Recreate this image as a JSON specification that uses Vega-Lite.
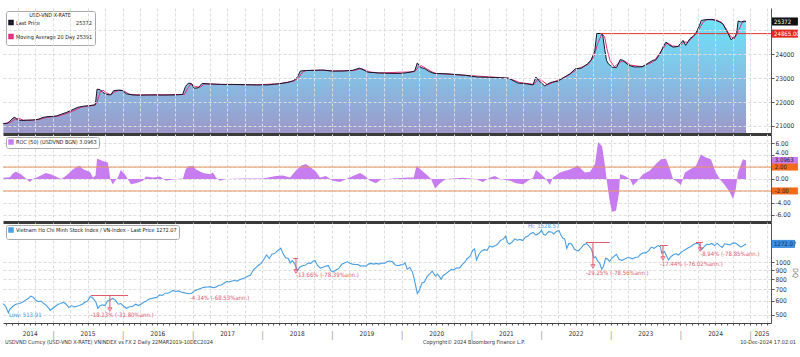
{
  "$schema": "https://vega.github.io/schema/vega-lite/v6.json",
  "background": "white",
  "padding": {"left": 0, "top": 8, "right": 0, "bottom": 0},
  "spacing": 0,
  "config": {
    "view": {"stroke": null},
    "scale": {"continuousPadding": 0},
    "font": "Liberation Sans Narrow, DejaVu Sans Condensed, Liberation Sans",
    "axis": {"labelFontSize": 6.5, "labelColor": "#333333", "gridColor": "#dcdcdc", "gridDash": [3, 2], "gridWidth": 1, "domainColor": "#555555", "tickColor": "#555555", "titleFontWeight": "normal"},
    "legend": {"orient": "top-left", "offset": 3, "padding": 2, "fillColor": "white", "strokeColor": "#a8a8a8", "cornerRadius": 2, "labelFontSize": 5.5, "titleFontSize": 5.5, "titleFontWeight": "normal", "titleColor": "#222222", "labelColor": "#222222", "symbolType": "square", "symbolSize": 9, "symbolStrokeWidth": 2.5, "rowPadding": 0, "labelOffset": 2, "titleAnchor": "middle", "titlePadding": 1, "labelLimit": 300}
  },
  "datasets": {
    "fx": [
      {"date":"2014-04-16","v":21100},{"date":"2014-05-05","v":21110},{"date":"2014-05-20","v":21200},{"date":"2014-06-05","v":21330},{"date":"2014-06-15","v":21360},{"date":"2014-06-30","v":21260},{"date":"2014-07-20","v":21230},{"date":"2014-08-15","v":21240},{"date":"2014-09-15","v":21250},{"date":"2014-10-15","v":21280},{"date":"2014-11-10","v":21360},{"date":"2014-12-05","v":21390},{"date":"2014-12-31","v":21400},
      {"date":"2015-01-20","v":21420},{"date":"2015-02-15","v":21500},{"date":"2015-03-10","v":21560},{"date":"2015-04-05","v":21650},{"date":"2015-05-10","v":21780},{"date":"2015-06-10","v":21830},{"date":"2015-07-10","v":21850},{"date":"2015-08-10","v":21890},{"date":"2015-08-13","v":22050},{"date":"2015-08-20","v":22540},{"date":"2015-09-05","v":22520},{"date":"2015-09-20","v":22400},{"date":"2015-10-10","v":22320},{"date":"2015-10-30","v":22300},{"date":"2015-11-15","v":22480},{"date":"2015-12-10","v":22500},{"date":"2015-12-31","v":22480},
      {"date":"2016-01-20","v":22350},{"date":"2016-02-20","v":22300},{"date":"2016-04-01","v":22290},{"date":"2016-06-01","v":22300},{"date":"2016-08-01","v":22290},{"date":"2016-10-01","v":22300},{"date":"2016-11-10","v":22320},{"date":"2016-11-25","v":22650},{"date":"2016-12-10","v":22790},{"date":"2016-12-25","v":22780},
      {"date":"2017-01-10","v":22580},{"date":"2017-01-31","v":22600},{"date":"2017-02-20","v":22780},{"date":"2017-04-01","v":22760},{"date":"2017-06-01","v":22740},{"date":"2017-08-01","v":22740},{"date":"2017-10-01","v":22730},{"date":"2017-12-01","v":22720},
      {"date":"2018-02-01","v":22720},{"date":"2018-04-01","v":22770},{"date":"2018-05-15","v":22820},{"date":"2018-06-15","v":22900},{"date":"2018-07-05","v":23050},{"date":"2018-07-20","v":23300},{"date":"2018-08-15","v":23320},{"date":"2018-10-01","v":23330},{"date":"2018-11-15","v":23340},
      {"date":"2019-01-01","v":23300},{"date":"2019-03-01","v":23300},{"date":"2019-04-20","v":23330},{"date":"2019-05-25","v":23420},{"date":"2019-06-15","v":23350},{"date":"2019-07-10","v":23250},{"date":"2019-09-01","v":23220},{"date":"2019-11-01","v":23200},
      {"date":"2020-01-01","v":23200},{"date":"2020-02-15","v":23250},{"date":"2020-03-10","v":23300},{"date":"2020-03-24","v":23640},{"date":"2020-04-10","v":23450},{"date":"2020-05-01","v":23400},{"date":"2020-05-25","v":23280},{"date":"2020-06-20","v":23200},{"date":"2020-09-01","v":23180},{"date":"2020-12-01","v":23120},
      {"date":"2021-02-01","v":23050},{"date":"2021-04-01","v":23040},{"date":"2021-06-01","v":23020},{"date":"2021-07-15","v":23000},{"date":"2021-09-01","v":22800},{"date":"2021-10-20","v":22760},{"date":"2021-11-20","v":22720},{"date":"2021-12-05","v":23050},{"date":"2021-12-20","v":22900},
      {"date":"2022-01-20","v":22680},{"date":"2022-02-20","v":22820},{"date":"2022-04-01","v":22880},{"date":"2022-05-15","v":23100},{"date":"2022-06-01","v":23180},{"date":"2022-07-01","v":23400},{"date":"2022-08-01","v":23420},{"date":"2022-09-01","v":23600},{"date":"2022-09-20","v":23750},{"date":"2022-10-10","v":24150},{"date":"2022-10-20","v":24870},{"date":"2022-11-10","v":24870},{"date":"2022-11-20","v":24820},{"date":"2022-12-01","v":24200},{"date":"2022-12-10","v":23750},{"date":"2022-12-20","v":23600},
      {"date":"2023-01-10","v":23460},{"date":"2023-02-01","v":23450},{"date":"2023-02-20","v":23780},{"date":"2023-03-05","v":23750},{"date":"2023-04-05","v":23540},{"date":"2023-05-05","v":23470},{"date":"2023-06-15","v":23480},{"date":"2023-07-15","v":23620},{"date":"2023-08-10","v":23750},{"date":"2023-08-25","v":23760},{"date":"2023-09-15","v":24000},{"date":"2023-10-05","v":24350},{"date":"2023-10-18","v":24510},{"date":"2023-11-01","v":24400},{"date":"2023-11-24","v":24300},{"date":"2023-12-20","v":24330},
      {"date":"2024-01-15","v":24580},{"date":"2024-01-29","v":24375},{"date":"2024-02-20","v":24650},{"date":"2024-03-15","v":24800},{"date":"2024-03-25","v":24930},{"date":"2024-04-10","v":25200},{"date":"2024-04-20","v":25420},{"date":"2024-05-15","v":25450},{"date":"2024-06-15","v":25460},{"date":"2024-07-05","v":25420},{"date":"2024-07-25","v":25350},{"date":"2024-08-10","v":25280},{"date":"2024-09-05","v":24900},{"date":"2024-09-23","v":24610},{"date":"2024-10-15","v":24750},{"date":"2024-10-22","v":24900},{"date":"2024-10-30","v":25390},{"date":"2024-11-15","v":25350},{"date":"2024-11-30","v":25390},{"date":"2024-12-10","v":25372}
    ],
    "ma": [
      {"date":"2014-04-16","v":21100},{"date":"2014-05-20","v":21140},{"date":"2014-06-15","v":21280},{"date":"2014-07-05","v":21320},{"date":"2014-07-30","v":21240},{"date":"2014-09-15","v":21245},{"date":"2014-10-20","v":21270},{"date":"2014-11-25","v":21360},{"date":"2014-12-31","v":21395},
      {"date":"2015-01-31","v":21420},{"date":"2015-02-28","v":21490},{"date":"2015-03-25","v":21560},{"date":"2015-04-25","v":21660},{"date":"2015-05-31","v":21790},{"date":"2015-06-30","v":21830},{"date":"2015-08-10","v":21870},{"date":"2015-08-20","v":22000},{"date":"2015-09-05","v":22430},{"date":"2015-09-20","v":22500},{"date":"2015-10-10","v":22380},{"date":"2015-10-30","v":22310},{"date":"2015-11-20","v":22420},{"date":"2015-12-15","v":22500},
      {"date":"2016-01-05","v":22480},{"date":"2016-02-05","v":22330},{"date":"2016-03-10","v":22300},{"date":"2016-11-20","v":22320},{"date":"2016-12-05","v":22550},{"date":"2016-12-25","v":22770},
      {"date":"2017-01-15","v":22650},{"date":"2017-02-10","v":22620},{"date":"2017-03-05","v":22760},{"date":"2017-06-01","v":22740},{"date":"2017-12-01","v":22720},
      {"date":"2018-04-01","v":22770},{"date":"2018-06-15","v":22880},{"date":"2018-07-10","v":23000},{"date":"2018-07-31","v":23250},{"date":"2018-08-20","v":23320},{"date":"2018-11-15","v":23335},
      {"date":"2019-01-10","v":23300},{"date":"2019-04-25","v":23320},{"date":"2019-06-05","v":23400},{"date":"2019-06-25","v":23340},{"date":"2019-07-20","v":23260},{"date":"2019-09-01","v":23220},
      {"date":"2020-03-10","v":23270},{"date":"2020-03-31","v":23480},{"date":"2020-04-15","v":23520},{"date":"2020-05-10","v":23400},{"date":"2020-06-10","v":23260},{"date":"2020-06-30","v":23200},{"date":"2020-12-01","v":23120},
      {"date":"2021-07-15","v":23000},{"date":"2021-09-10","v":22820},{"date":"2021-11-25","v":22740},{"date":"2021-12-15","v":22950},
      {"date":"2022-01-05","v":22900},{"date":"2022-02-05","v":22720},{"date":"2022-02-28","v":22810},{"date":"2022-05-20","v":23100},{"date":"2022-07-10","v":23380},{"date":"2022-09-05","v":23580},{"date":"2022-10-05","v":23900},{"date":"2022-10-25","v":24450},{"date":"2022-11-15","v":24840},{"date":"2022-11-30","v":24750},{"date":"2022-12-12","v":24250},{"date":"2022-12-28","v":23750},
      {"date":"2023-01-20","v":23480},{"date":"2023-02-25","v":23700},{"date":"2023-03-15","v":23720},{"date":"2023-04-15","v":23550},{"date":"2023-06-15","v":23480},{"date":"2023-08-15","v":23700},{"date":"2023-09-20","v":24100},{"date":"2023-10-25","v":24480},{"date":"2023-11-20","v":24350},{"date":"2023-12-25","v":24320},
      {"date":"2024-01-20","v":24520},{"date":"2024-02-10","v":24500},{"date":"2024-03-10","v":24750},{"date":"2024-04-05","v":25000},{"date":"2024-04-30","v":25350},{"date":"2024-05-20","v":25450},{"date":"2024-07-10","v":25430},{"date":"2024-08-05","v":25330},{"date":"2024-08-25","v":25100},{"date":"2024-09-20","v":24750},{"date":"2024-10-10","v":24650},{"date":"2024-10-30","v":24950},{"date":"2024-11-20","v":25330},{"date":"2024-12-10","v":25391}
    ],
    "roc": [
      {"date":"2014-04-16","v":0.2},{"date":"2014-04-28","v":0.25},{"date":"2014-05-20","v":0.3},{"date":"2014-06-05","v":0.9},{"date":"2014-06-20","v":1.2},{"date":"2014-07-05","v":1.0},{"date":"2014-07-17","v":0.8},{"date":"2014-08-12","v":0.1},{"date":"2014-09-02","v":-0.5},{"date":"2014-09-18","v":0},{"date":"2014-10-10","v":0.3},{"date":"2014-10-24","v":0.5},{"date":"2014-11-24","v":1.0},{"date":"2014-12-20","v":0.8},
      {"date":"2015-01-16","v":0.4},{"date":"2015-02-12","v":0},{"date":"2015-03-05","v":0.4},{"date":"2015-03-20","v":0.8},{"date":"2015-04-15","v":1.6},{"date":"2015-05-05","v":2.0},{"date":"2015-05-22","v":2.2},{"date":"2015-06-05","v":1.7},{"date":"2015-06-17","v":1.5},{"date":"2015-07-13","v":1.2},{"date":"2015-07-29","v":0.25},{"date":"2015-08-12","v":0.6},{"date":"2015-08-20","v":3.4},{"date":"2015-09-05","v":3.2},{"date":"2015-09-19","v":3.0},{"date":"2015-10-15","v":2.75},{"date":"2015-10-22","v":1.5},{"date":"2015-10-28","v":0},{"date":"2015-11-10","v":-0.9},{"date":"2015-11-25","v":-0.2},{"date":"2015-12-07","v":0.25},{"date":"2015-12-22","v":1.5},
      {"date":"2016-01-12","v":0.8},{"date":"2016-01-28","v":0},{"date":"2016-02-13","v":-0.9},{"date":"2016-03-10","v":-0.7},{"date":"2016-04-16","v":-0.3},{"date":"2016-05-02","v":0.4},{"date":"2016-06-08","v":0.25},{"date":"2016-07-14","v":0.4},{"date":"2016-08-15","v":-0.3},{"date":"2016-10-06","v":0},{"date":"2016-11-12","v":0.1},{"date":"2016-11-25","v":1.5},{"date":"2016-12-08","v":2.1},
      {"date":"2017-01-04","v":2.2},{"date":"2017-01-19","v":1.6},{"date":"2017-02-25","v":1.0},{"date":"2017-04-03","v":0.8},{"date":"2017-04-18","v":1.1},{"date":"2017-05-04","v":0.25},{"date":"2017-05-25","v":-0.3},{"date":"2017-06-25","v":0},{"date":"2017-09-23","v":0.1},
      {"date":"2018-01-05","v":0.1},{"date":"2018-03-14","v":0.5},{"date":"2018-04-19","v":0.6},{"date":"2018-05-27","v":0.25},{"date":"2018-06-27","v":1.4},{"date":"2018-07-23","v":2.2},{"date":"2018-08-18","v":2.5},{"date":"2018-09-14","v":1.9},{"date":"2018-10-10","v":1.2},{"date":"2018-10-31","v":0.25},{"date":"2018-12-01","v":0.5},
      {"date":"2019-01-07","v":-0.3},{"date":"2019-02-13","v":-0.5},{"date":"2019-03-16","v":0},{"date":"2019-04-22","v":0.5},{"date":"2019-05-29","v":1.0},{"date":"2019-06-24","v":0.5},{"date":"2019-07-20","v":-0.3},{"date":"2019-08-20","v":-0.7},{"date":"2019-09-16","v":-0.1},{"date":"2019-11-17","v":0.1},
      {"date":"2020-02-04","v":0.25},{"date":"2020-03-05","v":0.25},{"date":"2020-03-20","v":2.2},{"date":"2020-04-13","v":1.5},{"date":"2020-05-09","v":0.8},{"date":"2020-06-04","v":0},{"date":"2020-06-25","v":-1.6},{"date":"2020-07-21","v":-0.7},{"date":"2020-08-21","v":0},{"date":"2020-11-18","v":0.2},
      {"date":"2021-01-25","v":0},{"date":"2021-03-03","v":-0.5},{"date":"2021-04-09","v":0.25},{"date":"2021-05-05","v":0.5},{"date":"2021-05-31","v":0},{"date":"2021-07-23","v":-0.3},{"date":"2021-08-23","v":-0.7},{"date":"2021-09-29","v":-0.9},{"date":"2021-10-25","v":-0.3},{"date":"2021-11-20","v":0.2},{"date":"2021-12-06","v":1.5},
      {"date":"2022-01-01","v":0.8},{"date":"2022-01-27","v":0},{"date":"2022-02-17","v":-1.0},{"date":"2022-03-04","v":0.25},{"date":"2022-04-10","v":1.1},{"date":"2022-06-01","v":1.6},{"date":"2022-07-13","v":2.2},{"date":"2022-08-19","v":1.1},{"date":"2022-09-15","v":1.2},{"date":"2022-10-11","v":2.5},{"date":"2022-10-22","v":5.0},{"date":"2022-10-27","v":6.2},{"date":"2022-11-17","v":5.5},{"date":"2022-12-02","v":2.2},{"date":"2022-12-13","v":-0.6},{"date":"2022-12-28","v":-3.9},
      {"date":"2023-01-08","v":-5.5},{"date":"2023-01-29","v":-5.3},{"date":"2023-02-14","v":-2.25},{"date":"2023-02-19","v":0.8},{"date":"2023-03-17","v":0.5},{"date":"2023-04-12","v":0},{"date":"2023-04-28","v":-1.1},{"date":"2023-05-14","v":-0.6},{"date":"2023-06-19","v":0.8},{"date":"2023-07-26","v":1.4},{"date":"2023-08-26","v":2.5},{"date":"2023-09-22","v":3.3},{"date":"2023-10-18","v":3.4},{"date":"2023-11-08","v":1.6},{"date":"2023-11-24","v":0},{"date":"2023-12-20","v":-0.6},
      {"date":"2024-01-04","v":-1.0},{"date":"2024-01-25","v":1.1},{"date":"2024-02-20","v":1.6},{"date":"2024-03-23","v":2.2},{"date":"2024-04-18","v":4.1},{"date":"2024-05-14","v":3.6},{"date":"2024-06-09","v":3.3},{"date":"2024-07-05","v":1.1},{"date":"2024-07-26","v":0},{"date":"2024-08-22","v":-1.1},{"date":"2024-09-17","v":-2.25},{"date":"2024-10-03","v":-3.4},{"date":"2024-10-18","v":-1.6},{"date":"2024-10-29","v":1.1},{"date":"2024-11-24","v":3.3},{"date":"2024-12-10","v":3.1}
    ],
    "vn": [
      {"date":"2014-04-14","v":580},{"date":"2014-04-28","v":560},{"date":"2014-05-12","v":514},{"date":"2014-05-20","v":540},{"date":"2014-06-05","v":560},{"date":"2014-06-20","v":575},{"date":"2014-07-10","v":580},{"date":"2014-07-25","v":590},{"date":"2014-08-08","v":605},{"date":"2014-08-25","v":620},{"date":"2014-09-05","v":640},{"date":"2014-09-19","v":630},{"date":"2014-10-03","v":605},{"date":"2014-10-17","v":595},{"date":"2014-10-31","v":600},{"date":"2014-11-14","v":580},{"date":"2014-11-28","v":565},{"date":"2014-12-10","v":545},{"date":"2014-12-17","v":530},{"date":"2014-12-31","v":545},
      {"date":"2015-01-14","v":560},{"date":"2015-01-28","v":575},{"date":"2015-02-11","v":580},{"date":"2015-02-25","v":590},{"date":"2015-03-11","v":575},{"date":"2015-03-25","v":550},{"date":"2015-04-08","v":565},{"date":"2015-04-22","v":555},{"date":"2015-05-06","v":560},{"date":"2015-05-20","v":565},{"date":"2015-06-03","v":575},{"date":"2015-06-17","v":590},{"date":"2015-07-01","v":600},{"date":"2015-07-15","v":635},{"date":"2015-07-24","v":630},{"date":"2015-08-05","v":610},{"date":"2015-08-14","v":590},{"date":"2015-08-24","v":545},{"date":"2015-09-02","v":560},{"date":"2015-09-16","v":570},{"date":"2015-09-30","v":565},{"date":"2015-10-14","v":600},{"date":"2015-10-28","v":610},{"date":"2015-11-11","v":620},{"date":"2015-11-25","v":605},{"date":"2015-12-09","v":575},{"date":"2015-12-23","v":580},
      {"date":"2016-01-06","v":560},{"date":"2016-01-20","v":545},{"date":"2016-02-03","v":555},{"date":"2016-02-24","v":560},{"date":"2016-03-09","v":575},{"date":"2016-03-23","v":565},{"date":"2016-04-06","v":575},{"date":"2016-04-20","v":590},{"date":"2016-05-04","v":600},{"date":"2016-05-18","v":615},{"date":"2016-06-01","v":620},{"date":"2016-06-15","v":625},{"date":"2016-06-29","v":630},{"date":"2016-07-13","v":650},{"date":"2016-07-27","v":645},{"date":"2016-08-10","v":665},{"date":"2016-08-24","v":665},{"date":"2016-09-07","v":675},{"date":"2016-09-21","v":690},{"date":"2016-10-05","v":680},{"date":"2016-10-19","v":685},{"date":"2016-11-02","v":675},{"date":"2016-11-16","v":670},{"date":"2016-11-30","v":665},{"date":"2016-12-14","v":660},{"date":"2016-12-28","v":665},
      {"date":"2017-01-11","v":685},{"date":"2017-01-25","v":695},{"date":"2017-02-08","v":705},{"date":"2017-02-22","v":715},{"date":"2017-03-08","v":720},{"date":"2017-03-22","v":722},{"date":"2017-04-05","v":725},{"date":"2017-04-19","v":715},{"date":"2017-05-03","v":720},{"date":"2017-05-17","v":735},{"date":"2017-05-31","v":740},{"date":"2017-06-14","v":755},{"date":"2017-06-28","v":775},{"date":"2017-07-12","v":770},{"date":"2017-07-26","v":780},{"date":"2017-08-09","v":785},{"date":"2017-08-23","v":780},{"date":"2017-09-06","v":795},{"date":"2017-09-20","v":805},{"date":"2017-10-04","v":815},{"date":"2017-10-18","v":830},{"date":"2017-11-01","v":845},{"date":"2017-11-15","v":900},{"date":"2017-11-29","v":930},{"date":"2017-12-13","v":960},{"date":"2017-12-27","v":985},
      {"date":"2018-01-10","v":1040},{"date":"2018-01-24","v":1100},{"date":"2018-02-07","v":1050},{"date":"2018-02-21","v":1110},{"date":"2018-03-07","v":1120},{"date":"2018-03-21","v":1160},{"date":"2018-04-04","v":1190},{"date":"2018-04-09","v":1204},{"date":"2018-04-20","v":1120},{"date":"2018-05-04","v":1060},{"date":"2018-05-18","v":1050},{"date":"2018-05-28","v":990},{"date":"2018-06-08","v":1020},{"date":"2018-06-22","v":970},{"date":"2018-07-05","v":895},{"date":"2018-07-18","v":940},{"date":"2018-08-01","v":955},{"date":"2018-08-15","v":960},{"date":"2018-08-29","v":990},{"date":"2018-09-12","v":985},{"date":"2018-09-26","v":1015},{"date":"2018-10-05","v":1020},{"date":"2018-10-19","v":955},{"date":"2018-11-02","v":925},{"date":"2018-11-16","v":935},{"date":"2018-11-30","v":950},{"date":"2018-12-14","v":955},{"date":"2018-12-28","v":890},
      {"date":"2019-01-11","v":885},{"date":"2019-01-25","v":905},{"date":"2019-02-08","v":925},{"date":"2019-02-22","v":975},{"date":"2019-03-08","v":990},{"date":"2019-03-22","v":1005},{"date":"2019-04-05","v":985},{"date":"2019-04-19","v":975},{"date":"2019-05-03","v":970},{"date":"2019-05-17","v":970},{"date":"2019-05-31","v":950},{"date":"2019-06-14","v":955},{"date":"2019-06-28","v":950},{"date":"2019-07-12","v":975},{"date":"2019-07-26","v":985},{"date":"2019-08-09","v":975},{"date":"2019-08-23","v":985},{"date":"2019-09-06","v":975},{"date":"2019-09-20","v":990},{"date":"2019-10-04","v":985},{"date":"2019-10-18","v":1010},{"date":"2019-11-01","v":1015},{"date":"2019-11-15","v":1005},{"date":"2019-11-29","v":965},{"date":"2019-12-13","v":955},{"date":"2019-12-27","v":965},
      {"date":"2020-01-10","v":970},{"date":"2020-01-20","v":990},{"date":"2020-01-31","v":910},{"date":"2020-02-14","v":935},{"date":"2020-02-28","v":875},{"date":"2020-03-09","v":790},{"date":"2020-03-24","v":662},{"date":"2020-04-03","v":690},{"date":"2020-04-17","v":760},{"date":"2020-04-30","v":770},{"date":"2020-05-15","v":830},{"date":"2020-05-29","v":860},{"date":"2020-06-10","v":890},{"date":"2020-06-26","v":835},{"date":"2020-07-08","v":855},{"date":"2020-07-27","v":800},{"date":"2020-08-07","v":840},{"date":"2020-08-21","v":860},{"date":"2020-09-04","v":885},{"date":"2020-09-18","v":910},{"date":"2020-10-02","v":905},{"date":"2020-10-16","v":930},{"date":"2020-10-30","v":925},{"date":"2020-11-13","v":965},{"date":"2020-11-27","v":1000},{"date":"2020-12-11","v":1050},{"date":"2020-12-25","v":1080},
      {"date":"2021-01-08","v":1170},{"date":"2021-01-18","v":1190},{"date":"2021-01-28","v":1030},{"date":"2021-02-10","v":1110},{"date":"2021-02-24","v":1160},{"date":"2021-03-10","v":1180},{"date":"2021-03-24","v":1170},{"date":"2021-04-07","v":1240},{"date":"2021-04-21","v":1220},{"date":"2021-05-05","v":1240},{"date":"2021-05-19","v":1270},{"date":"2021-06-02","v":1330},{"date":"2021-06-16","v":1350},{"date":"2021-06-30","v":1410},{"date":"2021-07-09","v":1300},{"date":"2021-07-19","v":1270},{"date":"2021-08-02","v":1300},{"date":"2021-08-16","v":1360},{"date":"2021-08-30","v":1335},{"date":"2021-09-13","v":1350},{"date":"2021-09-27","v":1330},{"date":"2021-10-11","v":1390},{"date":"2021-10-25","v":1410},{"date":"2021-11-08","v":1460},{"date":"2021-11-22","v":1480},{"date":"2021-11-25","v":1460},{"date":"2021-12-06","v":1430},{"date":"2021-12-20","v":1460},{"date":"2021-12-31","v":1500},
      {"date":"2022-01-04","v":1528},{"date":"2022-01-14","v":1440},{"date":"2022-01-24","v":1430},{"date":"2022-02-10","v":1495},{"date":"2022-02-24","v":1490},{"date":"2022-03-09","v":1450},{"date":"2022-03-23","v":1500},{"date":"2022-04-05","v":1520},{"date":"2022-04-15","v":1430},{"date":"2022-04-26","v":1370},{"date":"2022-05-05","v":1360},{"date":"2022-05-16","v":1200},{"date":"2022-05-27","v":1280},{"date":"2022-06-10","v":1270},{"date":"2022-06-24","v":1190},{"date":"2022-07-05","v":1170},{"date":"2022-07-15","v":1160},{"date":"2022-07-29","v":1205},{"date":"2022-08-12","v":1255},{"date":"2022-08-26","v":1280},{"date":"2022-09-08","v":1240},{"date":"2022-09-22","v":1190},{"date":"2022-10-05","v":1060},{"date":"2022-10-14","v":1075},{"date":"2022-10-26","v":1010},{"date":"2022-11-04","v":990},{"date":"2022-11-15","v":912},{"date":"2022-11-25","v":950},{"date":"2022-12-05","v":1050},{"date":"2022-12-15","v":1045},{"date":"2022-12-26","v":1010},
      {"date":"2023-01-09","v":1060},{"date":"2023-01-31","v":1110},{"date":"2023-02-14","v":1040},{"date":"2023-02-28","v":1025},{"date":"2023-03-14","v":1040},{"date":"2023-03-28","v":1060},{"date":"2023-04-11","v":1060},{"date":"2023-04-25","v":1045},{"date":"2023-05-10","v":1065},{"date":"2023-05-24","v":1070},{"date":"2023-06-07","v":1110},{"date":"2023-06-21","v":1130},{"date":"2023-07-05","v":1130},{"date":"2023-07-19","v":1165},{"date":"2023-08-02","v":1220},{"date":"2023-08-16","v":1200},{"date":"2023-08-30","v":1230},{"date":"2023-09-08","v":1245},{"date":"2023-09-19","v":1220},{"date":"2023-09-26","v":1125},{"date":"2023-10-10","v":1150},{"date":"2023-10-20","v":1090},{"date":"2023-10-31","v":1030},{"date":"2023-11-10","v":1070},{"date":"2023-11-24","v":1100},{"date":"2023-12-08","v":1120},{"date":"2023-12-22","v":1100},
      {"date":"2024-01-10","v":1150},{"date":"2024-01-24","v":1175},{"date":"2024-02-07","v":1200},{"date":"2024-02-21","v":1220},{"date":"2024-03-06","v":1255},{"date":"2024-03-20","v":1280},{"date":"2024-03-28","v":1285},{"date":"2024-04-10","v":1260},{"date":"2024-04-19","v":1175},{"date":"2024-05-03","v":1220},{"date":"2024-05-17","v":1265},{"date":"2024-05-31","v":1262},{"date":"2024-06-14","v":1280},{"date":"2024-06-28","v":1245},{"date":"2024-07-12","v":1285},{"date":"2024-07-26","v":1240},{"date":"2024-08-07","v":1215},{"date":"2024-08-21","v":1275},{"date":"2024-09-04","v":1265},{"date":"2024-09-18","v":1255},{"date":"2024-10-02","v":1285},{"date":"2024-10-16","v":1285},{"date":"2024-10-30","v":1255},{"date":"2024-11-13","v":1220},{"date":"2024-11-27","v":1245},{"date":"2024-12-10","v":1272}
    ],
    "ddText": [
      {"date":"2015-07-18","v":502,"t":"-18.23% (-31.80%ann.)"},
      {"date":"2016-12-18","v":622,"t":"-4.34% (-68.53%ann.)"},
      {"date":"2018-06-27","v":847,"t":"-13.66% (-78.39%ann.)"},
      {"date":"2022-08-24","v":865,"t":"-29.25% (-78.56%ann.)"},
      {"date":"2023-09-16","v":979,"t":"-17.44% (-76.02%ann.)"},
      {"date":"2024-04-14","v":1117,"t":"-8.94% (-78.85%ann.)"}
    ],
    "ddH": [
      {"d1":"2015-07-18","d2":"2016-01-29","v":645},
      {"d1":"2018-06-13","d2":"2018-07-08","v":1050},
      {"d1":"2022-08-24","d2":"2022-12-27","v":1296},
      {"d1":"2023-09-16","d2":"2023-10-27","v":1246},
      {"d1":"2024-03-23","d2":"2024-04-28","v":1296}
    ],
    "ddV": [
      {"d":"2015-10-26","v1":645,"v2":536},
      {"d":"2018-06-27","v1":1050,"v2":885},
      {"d":"2022-09-30","v1":1296,"v2":945},
      {"d":"2023-10-02","v1":1246,"v2":1050},
      {"d":"2024-04-14","v1":1296,"v2":1182}
    ],
    "hilo": [
      {"date":"2014-05-15","v":496,"t":"Low: 513.91"},
      {"date":"2021-10-25","v":1611,"t":"Hi: 1528.57"}
    ],
    "tags1": [{"t":"25372","v":25372},{"t":"24865.00","v":24865}],
    "tags2": [{"t":"3.0963","v":3.0963},{"t":"2.00","v":2},{"t":"-2.00","v":-2}],
    "tags3": [{"t":"1272.07","v":1272.07}]
  },
  "vconcat": [
    {
      "width": 768, "height": 126,
      "resolve": {"axis": {"x": "independent", "y": "independent"}},
      "layer": [
        {
          "data": {"name": "fx"},
          "mark": {"type": "area", "color": {"gradient": "linear", "x1": 0, "y1": 0, "x2": 0, "y2": 1, "stops": [{"offset": 0, "color": "#6ce3f8"}, {"offset": 0.55, "color": "#87bce3"}, {"offset": 1, "color": "#9d97c9"}]}},
          "encoding": {
            "x": {"field": "date", "type": "temporal", "scale": {"type": "utc", "nice": false, "domain": [{"year": 2014, "month": 4, "date": 14, "utc": true}, {"year": 2025, "month": 4, "date": 20, "utc": true}]},
                  "axis": {"orient": "bottom", "grid": true, "tickCount": {"interval": "month", "step": 3}, "ticks": false, "labels": false, "domain": true, "domainWidth": 3, "domainColor": "#3a3a3a", "title": null, "zindex": 1}},
            "y": {"field": "v", "type": "quantitative", "scale": {"domain": [20665, 25937], "nice": false, "zero": false, "padding": 0},
                  "axis": {"orient": "right", "values": [21000, 22000, 23000, 24000, 25000], "labelExpr": "datum.value == 25000 ? '' : format(datum.value, 'd')", "grid": true, "title": null, "tickSize": 3, "labelPadding": 1, "labelOverlap": false, "zindex": 1}},
            "y2": {"datum": 20665}
          }
        },
        {
          "data": {"name": "ma"},
          "mark": {"type": "line", "strokeWidth": 1},
          "encoding": {
            "x": {"field": "date", "type": "temporal", "axis": null},
            "y": {"field": "v", "type": "quantitative", "axis": null},
            "color": {"datum": "Moving Average 20 Day", "scale": {"domain": ["Last Price", "Moving Average 20 Day"], "range": ["#151525", "#e0307f"]},
                      "legend": {"title": "USD-VND X-RATE", "labelExpr": "datum.label == 'Last Price' ? 'Last Price\u00a0\u00a0\u00a0\u00a0\u00a0\u00a0\u00a0\u00a0\u00a0\u00a0\u00a0\u00a0\u00a0\u00a0\u00a0\u00a0\u00a0\u00a0\u00a0\u00a0\u00a0\u00a0\u00a025372' : 'Moving Average 20 Day 25391'"}}
          }
        },
        {
          "data": {"name": "fx"},
          "mark": {"type": "line", "strokeWidth": 1},
          "encoding": {
            "x": {"field": "date", "type": "temporal", "axis": null},
            "y": {"field": "v", "type": "quantitative", "axis": null},
            "color": {"datum": "Last Price"}
          }
        },
        {
          "data": {"values": [{"d1": "2022-11-06", "d2": "2025-04-20", "v": 24865}]},
          "mark": {"type": "rule", "color": "#e8322a", "strokeWidth": 1},
          "encoding": {
            "x": {"field": "d1", "type": "temporal", "axis": null},
            "x2": {"field": "d2"},
            "y": {"field": "v", "type": "quantitative", "axis": null}
          }
        },
        {
          "mark": {"type": "rule", "color": "#3a3a3a", "strokeWidth": 3},
          "encoding": {
            "x": {"datum": {"year": 2025, "month": 4, "date": 20, "utc": true}, "type": "temporal", "axis": null},
            "x2": {"datum": {"year": 2025, "month": 10, "date": 5, "utc": true}},
            "y": {"datum": 20665, "type": "quantitative", "axis": null}
          }
        },
        {
          "data": {"name": "tags1"},
          "mark": {"type": "point", "shape": "M-1,-0.31H1V0.31H-1Z", "size": 676, "filled": true, "opacity": 1, "strokeWidth": 0},
          "encoding": {
            "x": {"datum": {"year": 2025, "month": 7, "date": 2, "utc": true}, "type": "temporal", "axis": null},
            "y": {"field": "v", "type": "quantitative", "axis": null},
            "fill": {"field": "t", "type": "nominal", "scale": {"domain": ["25372", "24865.00"], "range": ["#111111", "#e3261e"]}, "legend": null}
          }
        },
        {
          "data": {"name": "tags1"},
          "mark": {"type": "text", "align": "left", "baseline": "middle", "fontSize": 6, "color": "white"},
          "encoding": {
            "x": {"datum": {"year": 2025, "month": 5, "date": 6, "utc": true}, "type": "temporal", "axis": null},
            "y": {"field": "v", "type": "quantitative", "axis": null},
            "text": {"field": "t"}
          }
        }
      ]
    },
    {
      "width": 768, "height": 88,
      "resolve": {"axis": {"x": "independent", "y": "independent"}},
      "layer": [
        {
          "data": {"name": "roc"},
          "mark": {"type": "area", "opacity": 1},
          "encoding": {
            "x": {"field": "date", "type": "temporal", "scale": {"type": "utc", "nice": false, "domain": [{"year": 2014, "month": 4, "date": 14, "utc": true}, {"year": 2025, "month": 4, "date": 20, "utc": true}]},
                  "axis": {"orient": "bottom", "grid": true, "tickCount": {"interval": "month", "step": 3}, "ticks": false, "labels": false, "domain": true, "domainWidth": 3, "domainColor": "#3a3a3a", "title": null}},
            "y": {"field": "v", "type": "quantitative", "scale": {"domain": [-7.2, 7.53], "nice": false, "zero": false, "padding": 0},
                  "axis": {"orient": "right", "values": [-6, -4, -2, 0, 2, 4, 6], "labelExpr": "abs(datum.value) == 2 ? '' : replace(format(datum.value, '.2f'), '\u2212', '-')", "grid": true, "title": null, "tickSize": 3, "labelPadding": 1, "labelOverlap": false, "labelBound": false,
                           "labelBaseline": {"condition": {"test": "datum.value == 4", "value": "bottom"}, "value": "middle"}}},
            "y2": {"datum": 0},
            "color": {"datum": "ROC (50) (USDVND BGN) 3.0963", "scale": {"range": ["#c77df0"]}, "legend": {"title": null, "symbolSize": 30, "symbolStrokeWidth": 0}}
          }
        },
        {
          "data": {"values": [{"lvl": 2}, {"lvl": -2}]},
          "mark": {"type": "rule", "color": "#e8955f", "strokeWidth": 1},
          "encoding": {
            "y": {"field": "lvl", "type": "quantitative", "axis": null}
          }
        },
        {
          "mark": {"type": "rule", "color": "#3a3a3a", "strokeWidth": 3},
          "encoding": {
            "x": {"datum": {"year": 2025, "month": 4, "date": 20, "utc": true}, "type": "temporal", "axis": null},
            "x2": {"datum": {"year": 2025, "month": 10, "date": 5, "utc": true}},
            "y": {"datum": -7.2, "type": "quantitative", "axis": null}
          }
        },
        {
          "data": {"name": "tags2"},
          "mark": {"type": "point", "shape": "M-1,-0.27H1V0.27H-1Z", "size": 676, "filled": true, "opacity": 1, "strokeWidth": 0},
          "encoding": {
            "x": {"datum": {"year": 2025, "month": 7, "date": 2, "utc": true}, "type": "temporal", "axis": null},
            "y": {"field": "v", "type": "quantitative", "axis": null},
            "fill": {"field": "t", "type": "nominal", "scale": {"domain": ["3.0963", "2.00", "-2.00"], "range": ["#c77df0", "#f26b1d", "#f26b1d"]}, "legend": null}
          }
        },
        {
          "data": {"name": "tags2"},
          "mark": {"type": "text", "align": "left", "baseline": "middle", "fontSize": 6, "color": "#222222"},
          "encoding": {
            "x": {"datum": {"year": 2025, "month": 5, "date": 10, "utc": true}, "type": "temporal", "axis": null},
            "y": {"field": "v", "type": "quantitative", "axis": null},
            "text": {"field": "t"}
          }
        }
      ]
    },
    {
      "width": 768, "height": 101,
      "resolve": {"axis": {"x": "independent", "y": "independent"}},
      "layer": [
        {
          "data": {"name": "vn"},
          "mark": {"type": "line", "strokeWidth": 1.1},
          "encoding": {
            "x": {"field": "date", "type": "temporal", "scale": {"type": "utc", "nice": false, "domain": [{"year": 2014, "month": 4, "date": 14, "utc": true}, {"year": 2025, "month": 4, "date": 20, "utc": true}]},
                  "axis": {"orient": "bottom", "grid": false, "tickCount": {"interval": "month", "step": 1}, "ticks": true, "tickSize": 2, "domain": true, "domainColor": "#444444", "title": null, "labelOverlap": false, "labelFlush": false, "labelBound": false, "labelPadding": 5,
                           "labelExpr": "utcmonth(datum.value) == 0 ? '|' : (utcmonth(datum.value) == 6 && utcyear(datum.value) > 2014 && utcyear(datum.value) < 2025) ? utcFormat(datum.value, '%Y') : (utcyear(datum.value) == 2014 && utcmonth(datum.value) == 8) ? '2014' : (utcyear(datum.value) == 2025 && utcmonth(datum.value) == 2) ? '2025' : ''",
                           "labelColor": {"condition": {"test": "utcmonth(datum.value) == 0", "value": "#9a9a9a"}, "value": "#333333"},
                           "labelFontSize": {"condition": {"test": "utcmonth(datum.value) == 0", "value": 9}, "value": 6.5}}},
            "y": {"field": "v", "type": "quantitative", "scale": {"type": "log", "domain": [449, 1698], "nice": false, "zero": false, "padding": 0},
                  "axis": {"orient": "right", "values": [500, 600, 700, 800, 900, 1000], "format": "d", "grid": true, "title": "DQ", "titleAngle": 90, "titleFontSize": 7, "titleColor": "#777777", "titlePadding": 2, "tickSize": 3, "labelPadding": 1, "labelOverlap": false}},
            "color": {"datum": "Vietnam Ho Chi Minh Stock Index / VN-Index - Last Price 1272.07", "scale": {"range": ["#4a9ee2"]}, "legend": {"title": null}}
          }
        },
        {
          "data": {"name": "ddH"},
          "mark": {"type": "rule", "color": "#e05a6e", "strokeWidth": 1},
          "encoding": {
            "x": {"field": "d1", "type": "temporal", "axis": {"orient": "top", "grid": true, "tickCount": {"interval": "month", "step": 3}, "ticks": false, "labels": false, "domain": false, "title": null}},
            "x2": {"field": "d2"},
            "y": {"field": "v", "type": "quantitative", "axis": null}
          }
        },
        {
          "data": {"name": "ddV"},
          "mark": {"type": "rule", "color": "#e05a6e", "strokeWidth": 1},
          "encoding": {
            "x": {"field": "d", "type": "temporal", "axis": null},
            "y": {"field": "v1", "type": "quantitative", "axis": null},
            "y2": {"field": "v2"}
          }
        },
        {
          "data": {"name": "ddV"},
          "mark": {"type": "point", "shape": "triangle-down", "size": 18, "filled": false, "color": "#e05a6e", "strokeWidth": 0.8, "opacity": 1},
          "encoding": {
            "x": {"field": "d", "type": "temporal", "axis": null},
            "y": {"field": "v2", "type": "quantitative", "axis": null}
          }
        },
        {
          "data": {"name": "ddText"},
          "mark": {"type": "text", "align": "left", "baseline": "middle", "fontSize": 6, "color": "#e05a6e"},
          "encoding": {
            "x": {"field": "date", "type": "temporal", "axis": null},
            "y": {"field": "v", "type": "quantitative", "axis": null},
            "text": {"field": "t"}
          }
        },
        {
          "data": {"name": "hilo"},
          "mark": {"type": "text", "align": "left", "baseline": "middle", "fontSize": 6, "color": "#4a9ee2"},
          "encoding": {
            "x": {"field": "date", "type": "temporal", "axis": null},
            "y": {"field": "v", "type": "quantitative", "axis": null},
            "text": {"field": "t"}
          }
        },
        {
          "data": {"name": "tags3"},
          "mark": {"type": "point", "shape": "M-1,-0.35H1V0.35H-1Z", "size": 529, "filled": true, "opacity": 1, "strokeWidth": 0},
          "encoding": {
            "x": {"datum": {"year": 2025, "month": 6, "date": 24, "utc": true}, "type": "temporal", "axis": null},
            "y": {"field": "v", "type": "quantitative", "axis": null},
            "fill": {"field": "t", "type": "nominal", "scale": {"domain": ["1272.07"], "range": ["#3f8fe0"]}, "legend": null}
          }
        },
        {
          "data": {"name": "tags3"},
          "mark": {"type": "text", "align": "left", "baseline": "middle", "fontSize": 6, "color": "#0d2d5e"},
          "encoding": {
            "x": {"datum": {"year": 2025, "month": 5, "date": 6, "utc": true}, "type": "temporal", "axis": null},
            "y": {"field": "v", "type": "quantitative", "axis": null},
            "text": {"field": "t"}
          }
        }
      ]
    },
    {
      "width": 768, "height": 6,
      "data": {"values": [{}]},
      "layer": [
        {
          "mark": {"type": "text", "align": "left", "baseline": "middle", "fontSize": 5.5, "color": "#333333", "text": "USDVND Curncy (USD-VND X-RATE) VNINDEX vs FX 2  Daily 22MAR2019-10DEC2024"},
          "encoding": {"x": {"datum": {"year": 2014, "month": 4, "date": 25, "utc": true}, "type": "temporal", "scale": {"type": "utc", "nice": false, "domain": [{"year": 2014, "month": 4, "date": 14, "utc": true}, {"year": 2025, "month": 4, "date": 20, "utc": true}]}, "axis": null}}
        },
        {
          "mark": {"type": "text", "align": "center", "baseline": "middle", "fontSize": 5.5, "color": "#333333", "text": "Copyright\u00a9 2024 Bloomberg Finance L.P."},
          "encoding": {"x": {"datum": {"year": 2021, "month": 1, "date": 15, "utc": true}, "type": "temporal", "axis": null}}
        },
        {
          "mark": {"type": "text", "align": "right", "baseline": "middle", "fontSize": 5.5, "color": "#333333", "text": "10-Dec-2024 17:02:01"},
          "encoding": {"x": {"datum": {"year": 2025, "month": 8, "date": 29, "utc": true}, "type": "temporal", "axis": null}}
        }
      ]
    }
  ],
  "resolve": {"scale": {"x": "independent", "color": "independent", "fill": "independent"}, "legend": {"color": "independent"}}
}
